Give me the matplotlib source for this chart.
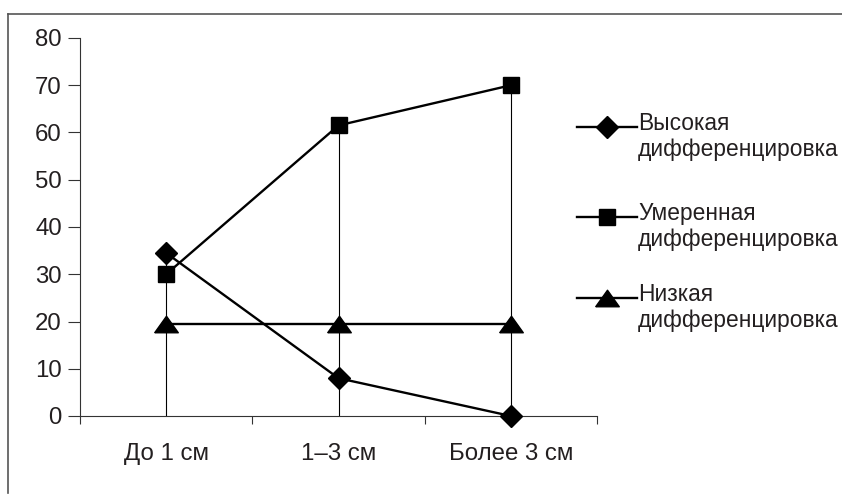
import numpy as np
import matplotlib
matplotlib.use("Agg")
import matplotlib.pyplot as plt
from matplotlib.lines import Line2D

plt.rcParams['font.family'] = ['Liberation Sans', 'DejaVu Sans']

categories = ["До 1 см", "1–3 см", "Более 3 см"]
high = [34.5, 8, 0]
moderate = [30, 61.5, 70]
low = [19.5, 19.5, 19.5]
labels = ["Высокая\nдифференцировка",
          "Умеренная\nдифференцировка",
          "Низкая\nдифференцировка"]

TXT = '#231f20'
FS = 17.3
tri = [(-1, -0.7), (1, -0.7), (0, 0.7), (-1, -0.7)]

W, H = 842, 495
fig = plt.figure(figsize=(W / 100, H / 100), dpi=100)
ax = fig.add_axes([80 / W, 1 - 416 / H, (597 - 80) / W, (416 - 38) / H])

x = np.arange(len(categories))
tops = np.max([high, moderate, low], axis=0)
ax.vlines(x, 0, tops, color='black', lw=0.8, zorder=2)

styles = [dict(marker='D', ms=11), dict(marker='s', ms=11.5), dict(marker=tri, ms=17)]
for vals, st in zip([high, moderate, low], styles):
    ax.plot(x, vals, color='black', lw=1.7, mfc='black', mec='black',
            clip_on=False, zorder=3, **st)

ax.set_xlim(-0.5, 2.5)
ax.set_ylim(0, 80)
ax.set_yticks(np.arange(0, 81, 10))
ax.set_xticks(x)
ax.set_xticklabels(categories)
ax.set_xticks([-0.5, 0.5, 1.5, 2.5], minor=True)
ax.tick_params(axis='x', which='major', length=0, pad=19.5, labelsize=FS, labelcolor=TXT)
ax.tick_params(axis='x', which='minor', length=6, width=0.8, color='#333333')
ax.tick_params(axis='y', length=9, width=0.8, color='#333333', pad=4,
               labelsize=FS, labelcolor=TXT)
for s in ['top', 'right']:
    ax.spines[s].set_visible(False)
for s in ['left', 'bottom']:
    ax.spines[s].set_color('#333333')
    ax.spines[s].set_linewidth(0.8)

# outer frame (top and left edges visible)
fig.add_artist(Line2D([8 / W, 1.01], [1 - 13.5 / H, 1 - 13.5 / H], color='#555555', lw=1.2))
fig.add_artist(Line2D([8 / W, 8 / W], [1 - 13.5 / H, 1 - 493 / H], color='#555555', lw=1.2))

# legend
leg_y = [127, 217, 298]
for yy, st, lab in zip(leg_y, styles, labels):
    fy = 1 - yy / H
    fig.add_artist(Line2D([577 / W, 637 / W], [fy, fy], color='black', lw=1.7))
    fig.add_artist(Line2D([607 / W], [fy], color='black', mfc='black', mec='black', **st))
    fig.text(638 / W, 1 - (yy - 15) / H, lab, fontsize=16.4, color=TXT,
             va='top', ha='left', linespacing=1.15)

fig.savefig("out.png", dpi=100)
